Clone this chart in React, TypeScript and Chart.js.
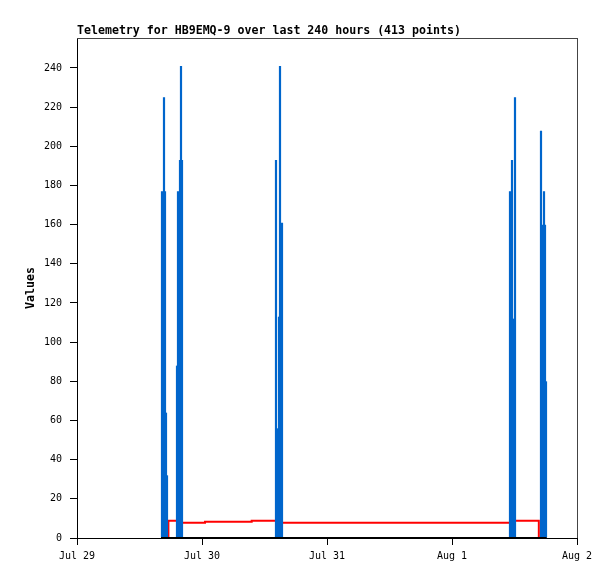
import React, { useEffect, useRef } from "react";
import { Chart, registerables } from "chart.js";

Chart.register(...registerables);

const TITLE = "Telemetry for HB9EMQ-9 over last 240 hours (413 points)";
const Y_LABEL = "Values";

// x axis: hours since Jul 29 00:00
const xTickHours = [0, 24, 48, 72, 96];
const xTickLabels = ["Jul 29", "Jul 30", "Jul 31", "Aug 1", "Aug 2"];
const yTickValues = [0, 20, 40, 60, 80, 100, 120, 140, 160, 180, 200, 220, 240];
const Y_MAX = 255.3;

// blue spikes (hours, values)
const barHours = [
  16.224, 16.416, 16.608, 16.8, 16.992, 17.184, 17.376,
  19.104, 19.296, 19.488, 19.68, 19.872, 20.064, 20.256,
  38.112, 38.304, 38.496, 38.688, 38.88, 39.072, 39.264, 39.456,
  83.04, 83.232, 83.424, 83.616, 83.808, 84.0, 84.192,
  88.992, 89.184, 89.376, 89.568, 89.76, 89.952, 90.144,
];
const barValues = [
  177, 177, 225, 225, 177, 64, 32,
  88, 177, 177, 193, 241, 241, 193,
  193, 193, 56, 113, 241, 241, 161, 161,
  177, 177, 193, 193, 112, 225, 225,
  208, 208, 160, 177, 177, 160, 80,
];

// red step series
const redHours = [17.55, 17.55, 19.7, 24.58, 33.54, 38.8, 83.5, 88.67];
const redValues = [0, 8.8, 7.8, 8.3, 8.8, 7.8, 8.8, 0];

// black series at zero
const blackHours = [16.13, 90.18];
const blackValues = [0, 0];

const MONO = "'DejaVu Sans Mono', 'Liberation Mono', monospace";

export default function App() {
  const ref = useRef<HTMLCanvasElement>(null);

  useEffect(() => {
    if (!ref.current) return;
    const framePlugin = {
      id: "frame",
      afterDraw(chart: any) {
        const { ctx, chartArea } = chart;
        ctx.save();
        ctx.fillStyle = "#444";
        ctx.fillRect(chartArea.left, chartArea.top, chartArea.right - chartArea.left + 1, 1);
        ctx.fillRect(chartArea.right, chartArea.top, 1, chartArea.bottom - chartArea.top);
        ctx.restore();
      },
    };

    const chart = new Chart(ref.current, {
      type: "bar",
      data: {
        datasets: [
          {
            type: "line",
            data: blackHours.map((h, i) => ({ x: h, y: blackValues[i] })),
            borderColor: "#000000",
            borderWidth: 2,
            pointRadius: 0,
            fill: false,
          } as any,
          {
            type: "bar",
            data: barHours.map((h, i) => ({ x: h, y: barValues[i] })),
            backgroundColor: "#0066cc",
            borderWidth: 0,
            barThickness: 1.2,
            grouped: false,
            inflateAmount: 0,
          } as any,
          {
            type: "line",
            data: redHours.map((h, i) => ({ x: h, y: redValues[i] })),
            borderColor: "#ff0000",
            borderWidth: 2,
            pointRadius: 0,
            stepped: "before",
            fill: false,
          } as any,
        ],
      },
      options: {
        animation: false,
        responsive: false,
        devicePixelRatio: 1,
        layout: { padding: { top: 25, left: 0, right: 38, bottom: 0 } },
        plugins: {
          legend: { display: false },
          tooltip: { enabled: false },
          title: {
            display: true,
            text: TITLE,
            align: "start",
            fullSize: false,
            color: "#000",
            font: { family: MONO, size: 11.6, weight: "bold", lineHeight: "12px" as any },
            padding: { top: 0, bottom: 1 },
          },
        },
        scales: {
          x: {
            type: "linear",
            min: 0,
            max: 96,
            offset: false,
            afterBuildTicks: (scale: any) => {
              scale.ticks = xTickHours.map((v) => ({ value: v }));
            },
            afterFit: (scale: any) => {
              scale.height = 41;
            },
            ticks: {
              autoSkip: false,
              maxRotation: 0,
              color: "#000",
              padding: 5,
              font: { family: MONO, size: 10, lineHeight: "12px" as any },
              callback: (v: any) => {
                const i = xTickHours.indexOf(Number(v));
                return i >= 0 ? xTickLabels[i] : "";
              },
            },
            grid: {
              offset: false,
              drawOnChartArea: false,
              drawTicks: true,
              tickLength: 7,
              color: "#000",
            },
            border: { display: true, color: "#000", width: 1 },
          },
          y: {
            type: "linear",
            min: 0,
            max: Y_MAX,
            afterBuildTicks: (scale: any) => {
              scale.ticks = yTickValues.map((v) => ({ value: v }));
            },
            afterFit: (scale: any) => {
              scale.width = 77;
            },
            ticks: {
              autoSkip: false,
              color: "#000",
              padding: 8,
              font: { family: MONO, size: 10 },
              callback: (v: any) => String(v),
            },
            grid: {
              offset: false,
              drawOnChartArea: false,
              drawTicks: true,
              tickLength: 7,
              color: "#000",
            },
            border: { display: true, color: "#000", width: 1 },
            title: {
              display: true,
              text: Y_LABEL,
              color: "#000",
              font: { family: MONO, size: 11.6, weight: "bold", lineHeight: "12px" as any },
              padding: { top: 25, bottom: 0 },
            },
          },
        },
      },
      plugins: [framePlugin],
    });
    return () => chart.destroy();
  }, []);

  return (
    <div style={{ position: "absolute", left: 0, top: 0, width: 615, height: 579, background: "#fff" }}>
      <canvas ref={ref} width={615} height={579} />
    </div>
  );
}
